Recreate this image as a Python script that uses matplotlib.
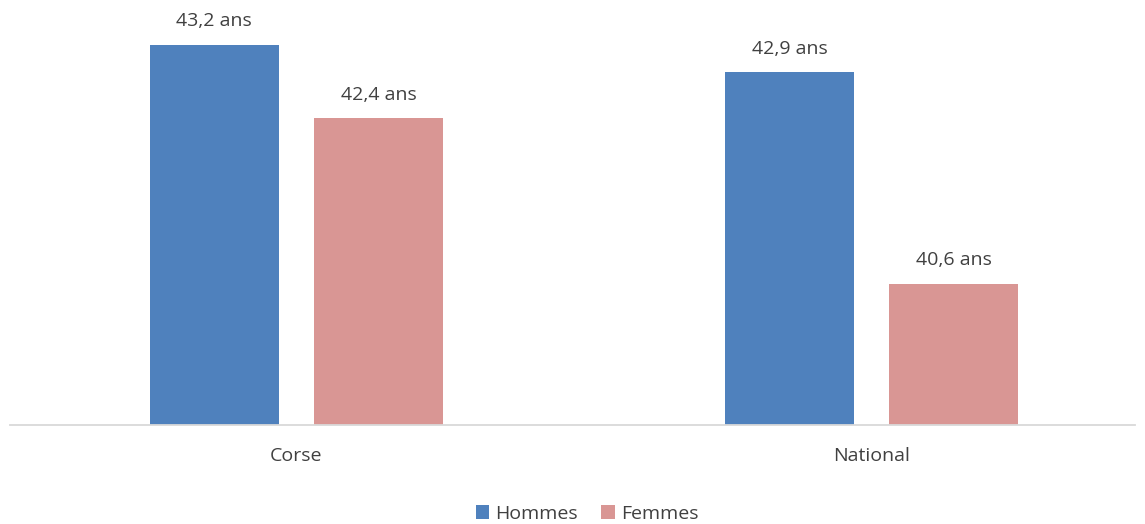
import matplotlib
matplotlib.use("Agg")
import matplotlib.pyplot as plt
from matplotlib.patches import Patch
import numpy as np

categories = ["Corse", "National"]
series_names = ["Hommes", "Femmes"]
hommes = [43.2, 42.9]
femmes = [42.4, 40.6]
colors = ["#4F81BD", "#D99694"]

plt.rcParams['font.family'] = ['Open Sans', 'DejaVu Sans']
text_color = "#404040"

fig = plt.figure(figsize=(11.45, 5.24), dpi=100)
ax = fig.add_axes([10/1145, 1-425/524, 1125/1145, 415/524])

x = np.arange(len(categories))
w = 0.2243
off = 0.1426
for vals, dx, c in [(hommes, -off, colors[0]), (femmes, off, colors[1])]:
    ax.bar(x + dx, vals, width=w, color=c, bottom=0)
    for xi, v in zip(x + dx, vals):
        ax.annotate(f"{v:.1f}".replace(".", ",") + " ans", (xi, v),
                    xytext=(0, 17), textcoords="offset points",
                    ha="center", va="center", fontsize=14, color=text_color)

ax.set_xlim(-0.4979, 1.4581)
ax.set_ylim(39.06, 43.58)
ax.set_xticks(x)
ax.set_xticklabels(categories, fontsize=14, color=text_color)
ax.tick_params(axis="x", length=0, pad=16)
ax.set_yticks([])
for s in ["top", "right", "left"]:
    ax.spines[s].set_visible(False)
ax.spines["bottom"].set_color("#D9D9D9")
ax.spines["bottom"].set_linewidth(1.3)

handles = [Patch(facecolor=c, edgecolor="none") for c in colors]
fig.legend(handles, series_names, loc="center", bbox_to_anchor=(587/1145, 1-514/524),
           ncol=2, frameon=False, fontsize=14, handlelength=0.7, handleheight=0.7,
           handletextpad=0.3, columnspacing=1.2, labelcolor=text_color)

fig.savefig("out.png", dpi=100)
